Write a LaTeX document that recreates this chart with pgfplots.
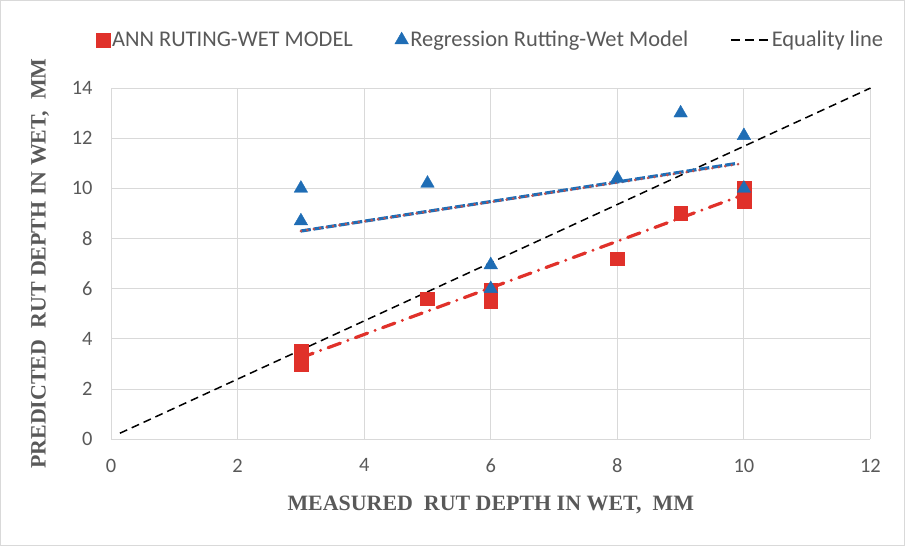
\documentclass[border=0pt]{standalone}
\usepackage{fontspec}
\setmainfont{Carlito}
\newfontfamily\timesfont{Liberation Serif}
\usepackage{pgfplots}
\pgfplotsset{compat=1.18}
\definecolor{annred}{HTML}{E0312A}
\definecolor{regblue}{HTML}{1F6DB5}
\definecolor{dotred}{HTML}{C0504D}
\definecolor{gridgray}{HTML}{D9D9D9}
\definecolor{txtgray}{HTML}{595959}
\begin{document}
\begin{tikzpicture}
\begin{axis}[
  at={(0,0)}, anchor=south west,
  scale only axis, width=759bp, height=351bp,
  xmin=0, xmax=12, ymin=0, ymax=14,
  xtick={0,2,...,12}, ytick={0,2,...,14},
  grid=major,
  grid style={gridgray, line width=1bp},
  axis line style={draw=none},
  major tick length=0pt,
  tick label style={font=\fontsize{20.5}{22}\selectfont, text=txtgray},
  /pgf/number format/assume math mode=true,
  xticklabel style={yshift=-16bp},
  yticklabel style={xshift=-15bp},
  xlabel={\timesfont\bfseries MEASURED\ \ RUT DEPTH IN WET,\ \ MM},
  ylabel={\timesfont\bfseries PREDICTED\ \ RUT DEPTH IN WET,\ \ MM},
  label style={font=\fontsize{22}{24}\selectfont, text=txtgray},
  xlabel style={at={(axis description cs:0.5,-0.188)}, anchor=center},
  ylabel style={at={(axis description cs:-0.0935,0.5)}, anchor=center, rotate=0},
  legend columns=3,
  legend style={at={(axis description cs:0.5,1.137)}, anchor=center, draw=none,
    font=\fontsize{22.5}{24}\selectfont, text=txtgray,
    /tikz/every even column/.append style={column sep=40bp}},
  legend cell align=left,
  clip=false,
]
% equality line
\addplot[black, line width=1.5bp, dash pattern=on 8bp off 5bp, forget plot] coordinates {(0.14,0.24) (12,14)};
% regression trend (blue dashed + red dotted)
\addplot[regblue, line width=3.2bp, dash pattern=on 10bp off 3bp, forget plot] coordinates {(3,8.3) (9.9,11.0)};
\addplot[dotred, line width=2.8bp, line cap=round, dash pattern=on 0bp off 6.5bp, forget plot] coordinates {(3,8.3) (10,11.0)};
% ANN trend
\addplot[annred, line width=3.2bp, line cap=round, dash pattern=on 13bp off 8bp on 0bp off 8bp, forget plot] coordinates {(3,3.25) (10,9.75)};
% ANN points
\addplot[only marks, mark=square*, mark size=6.8bp, color=annred, mark options={fill=annred, draw=annred}] coordinates {
(3,3.0) (3,3.5) (5,5.6) (6,5.5) (6,5.95) (8,7.2) (9,9.0) (10,9.5) (10,10.0)};
\addlegendentry{ANN RUTING-WET MODEL}
% Regression points
\addplot[only marks, mark=triangle*, mark size=7.8bp, color=regblue, mark options={fill=regblue, draw=regblue}] coordinates {
(3,10.0) (3,8.7) (5,10.2) (6,6.95) (6,6.0) (8,10.4) (9,13.0) (10,12.1) (10,10.0)};
\addlegendentry{Regression Rutting-Wet Model}
\addlegendimage{legend image code/.code={\draw[black, line width=1.6bp, dash pattern=on 9bp off 5bp] (0bp,0bp) -- (38bp,0bp);}}
\addlegendentry{Equality line}
\end{axis}
\draw[gridgray, line width=1bp] (-110.5bp,-106bp) rectangle (793bp,438.5bp);
\end{tikzpicture}
\end{document}
